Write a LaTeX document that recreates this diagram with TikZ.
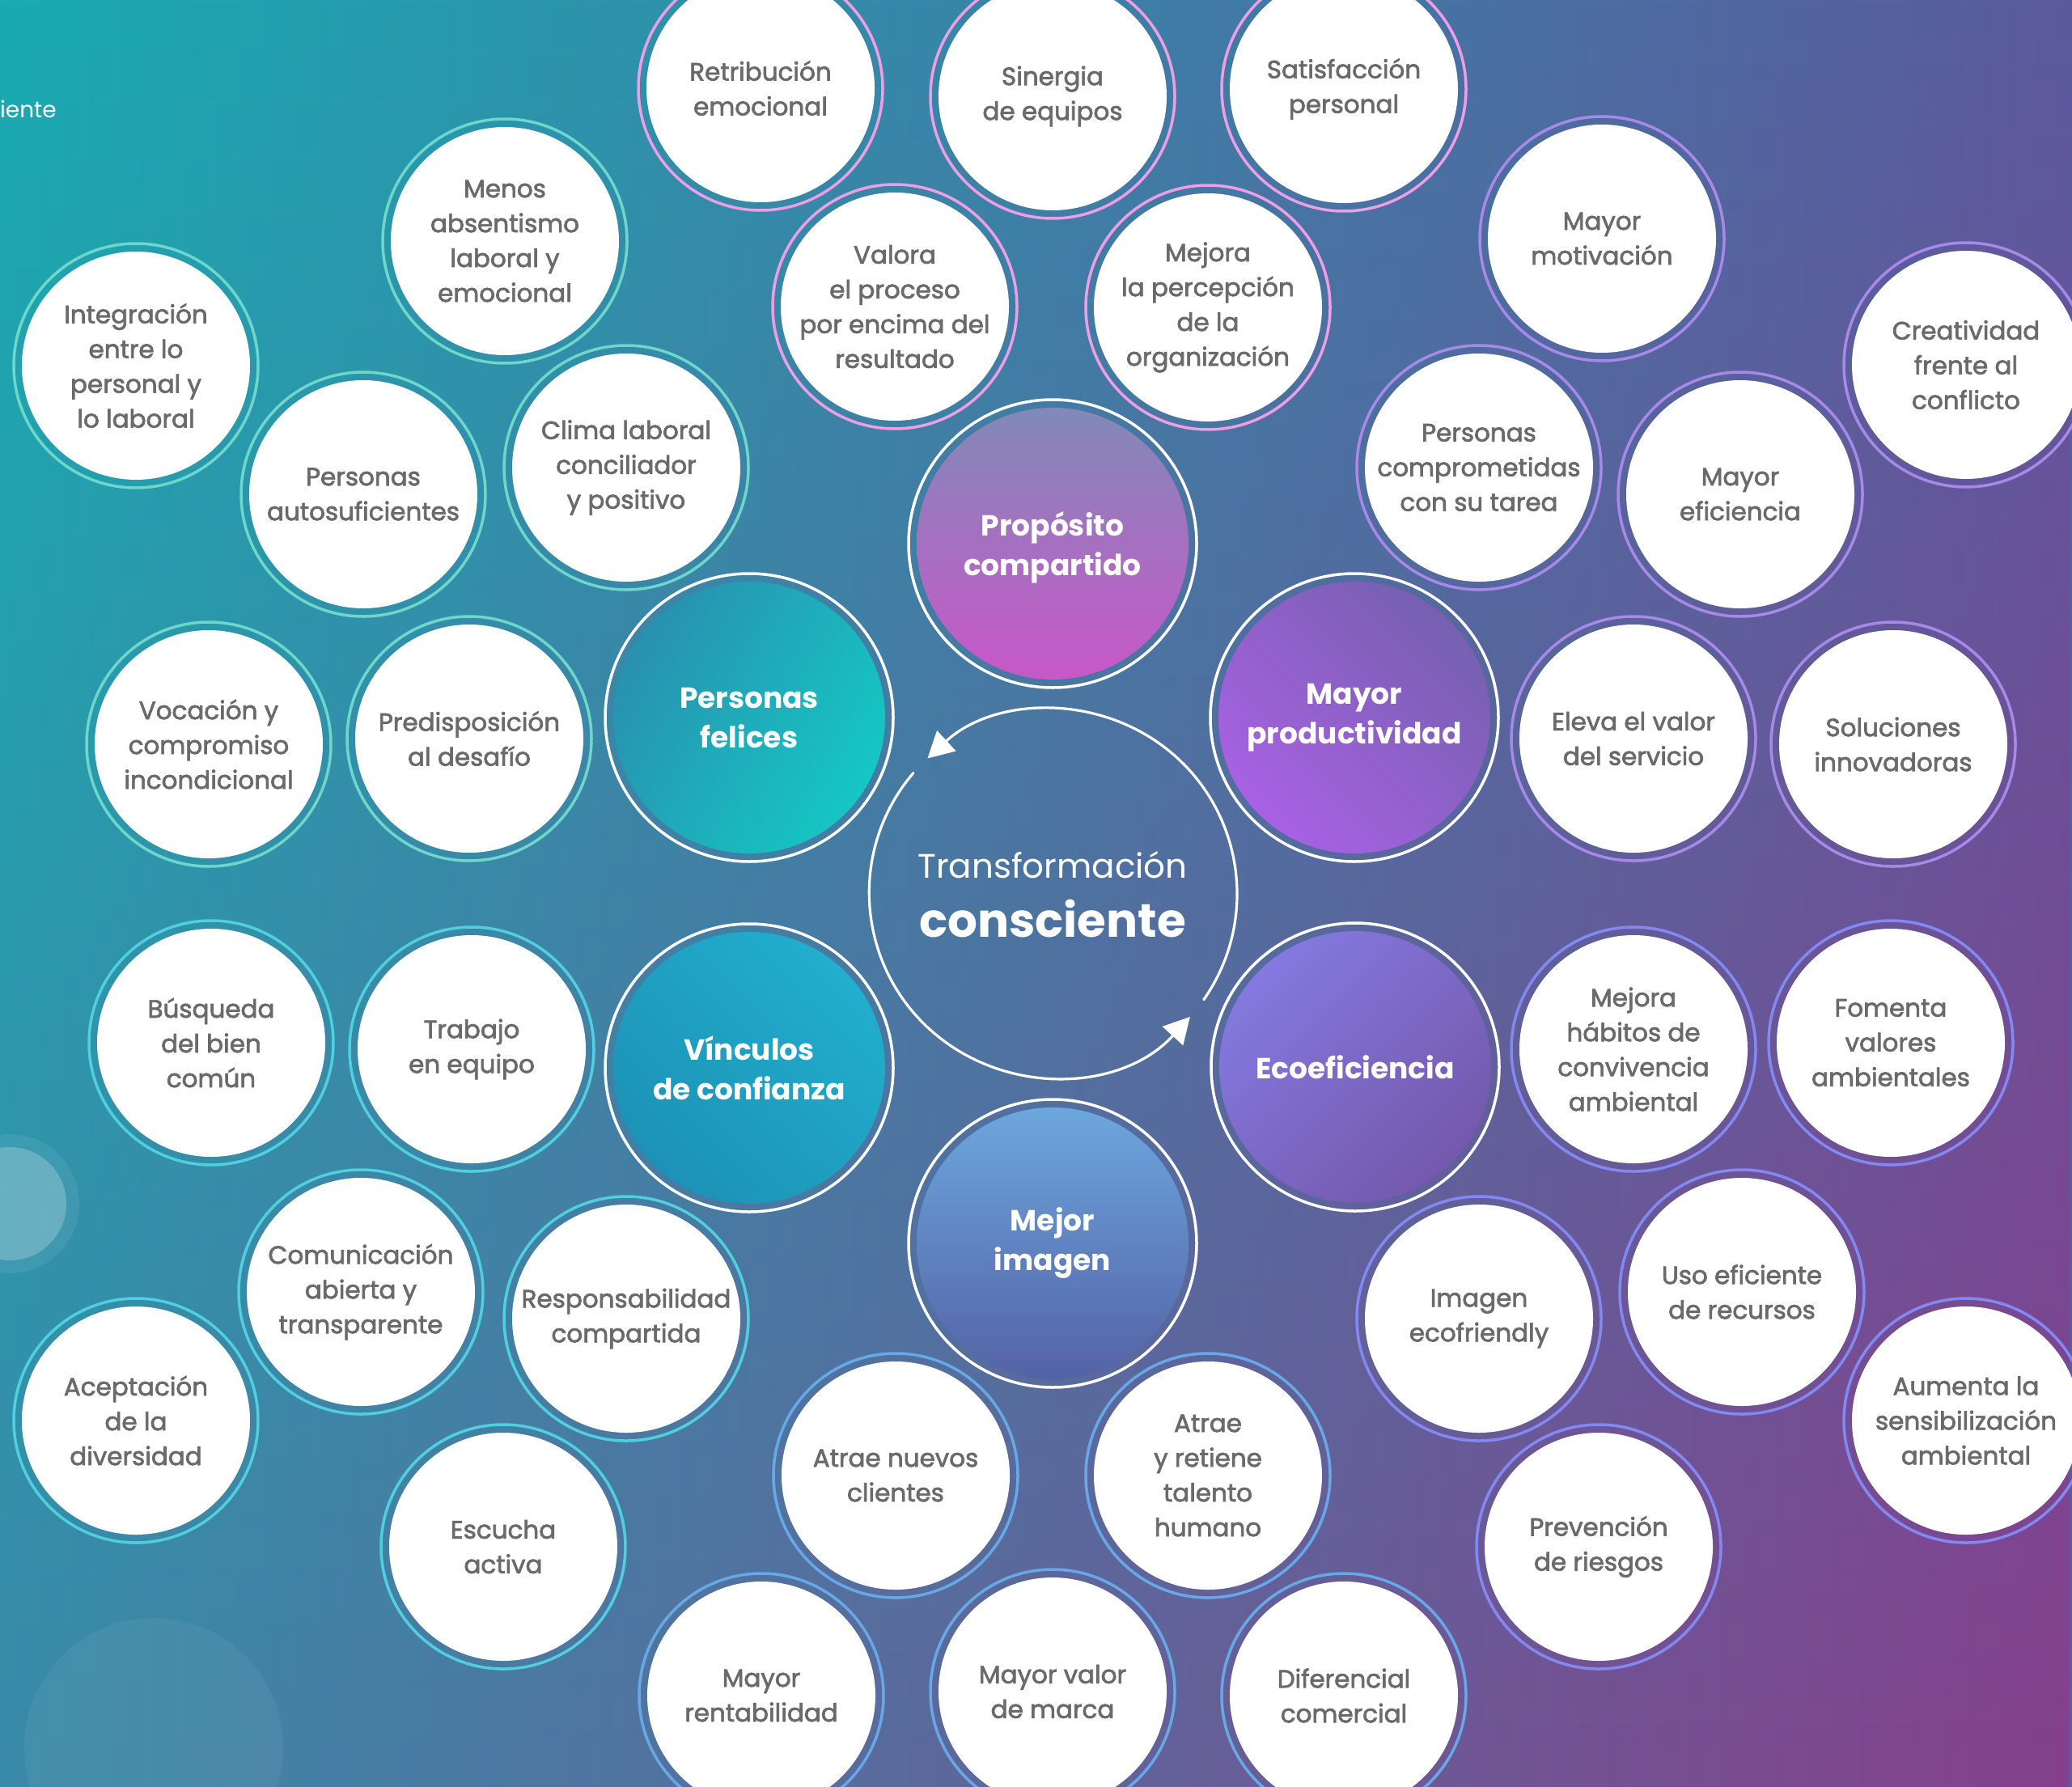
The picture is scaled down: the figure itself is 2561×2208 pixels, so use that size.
\documentclass[tikz,border=0pt]{standalone}
\usepackage{fontspec}
\setmainfont{Poppins}
\newfontfamily\wfont{Poppins}[FakeBold=2.2]
\usetikzlibrary{arrows.meta,fadings}
\definecolor{bgTL}{HTML}{19ABB1}
\definecolor{bgTR}{HTML}{5B5A9E}
\definecolor{bgBL}{HTML}{3A8AA8}
\definecolor{bgBR}{HTML}{86408D}
\definecolor{txtg}{HTML}{6A6A6A}
\definecolor{pinkR}{HTML}{EE9FE4}
\definecolor{mintR}{HTML}{6FD6CB}
\definecolor{cyanR}{HTML}{4FCFE0}
\definecolor{blueR}{HTML}{66A9E6}
\definecolor{lavR}{HTML}{A78AE8}
\definecolor{periR}{HTML}{8388F2}
\definecolor{propA}{HTML}{8289B8}
\definecolor{propB}{HTML}{C857C8}
\definecolor{felA}{HTML}{2891B0}
\definecolor{felB}{HTML}{15C7C4}
\definecolor{prodA}{HTML}{7660B0}
\definecolor{prodB}{HTML}{A861E3}
\definecolor{vinA}{HTML}{22AECD}
\definecolor{vinB}{HTML}{1C92B6}
\definecolor{ecoA}{HTML}{8479DF}
\definecolor{ecoB}{HTML}{7458AC}
\definecolor{imgA}{HTML}{6CA7DD}
\definecolor{imgB}{HTML}{5462A5}
\tikzfading[name=fadebot, top color=transparent!100, bottom color=transparent!0]
\newcommand\mywc[5]{%
  \draw[ringline, draw=#4] (#2,-#3) circle[radius=151];
  \node[wnode] (#1) at (#2,-#3) {#5};}
\newcommand\mymc[5]{%
  \draw[ringline, draw=white] (#2,-#3) circle[radius=178];
  \node[mnode, #4] (#1) at (#2,-#3) {#5};}
\begin{document}
\begin{tikzpicture}[x=1pt,y=1pt,
  ringline/.style={line width=3.5pt},
  wnode/.style={circle, fill=white, minimum size=282pt, inner sep=0pt, outer sep=0pt,
    align=center, text=txtg, font=\wfont\fontsize{31}{43}\selectfont},
  mnode/.style={circle, minimum size=336pt, inner sep=0pt, outer sep=0pt,
    align=center, text=white, font=\bfseries\fontsize{36}{49}\selectfont},
  cyc/.style={draw=white, line width=3.2pt, line cap=round,
    -{Triangle[length=32pt,width=34pt]}}]
\useasboundingbox (0,0) rectangle (2561,-2208);
\clip (0,0) rectangle (2561,-2208);
% background
\shade[left color=bgTL, right color=bgTR] (0,0) rectangle (2561,-2208);
\shade[left color=bgBL, right color=bgBR, path fading=fadebot] (0,0) rectangle (2561,-2208);
\fill[white, opacity=0.07] (12,-1488) circle[radius=86];
\fill[white, opacity=0.22] (12,-1488) circle[radius=70];
\fill[white, opacity=0.05] (190,-2160) circle[radius=160];
\node[anchor=base east, text=white, font=\fontsize{28}{34}\selectfont, inner sep=0pt] (ttl) at (70,-145) {iente};
% top group
\mywc{t1}{940}{109}{pinkR}{Retribución\\emocional}
\mywc{t2}{1301}{119}{pinkR}{Sinergia\\de equipos}
\mywc{t3}{1661}{110}{pinkR}{Satisfacción\\personal}
\mywc{t4}{1106}{379}{pinkR}{Valora\\el proceso\\por encima del\\resultado}
\mywc{t5}{1493}{380}{pinkR}{Mejora\\la percepción\\de la\\organización}
% left top group
\mywc{l1}{624}{298}{mintR}{Menos\\absentismo\\laboral y\\emocional}
\mywc{l2}{168}{452}{mintR}{Integración\\entre lo\\personal y\\lo laboral}
\mywc{l3}{449}{611}{mintR}{Personas\\autosuficientes}
\mywc{l4}{774}{578}{mintR}{Clima laboral\\conciliador\\y positivo}
\mywc{l5}{258}{920}{mintR}{Vocación y\\compromiso\\incondicional}
\mywc{l6}{580}{913}{mintR}{Predisposición\\al desafío}
% left bottom group
\mywc{b1}{261}{1289}{cyanR}{Búsqueda\\del bien\\común}
\mywc{b2}{583}{1297}{cyanR}{Trabajo\\en equipo}
\mywc{b3}{446}{1597}{cyanR}{Comunicación\\abierta y\\transparente}
\mywc{b4}{774}{1630}{cyanR}{Responsabilidad\\compartida}
\mywc{b5}{168}{1756}{cyanR}{Aceptación\\de la\\diversidad}
\mywc{b6}{622}{1912}{cyanR}{Escucha\\activa}
% bottom group
\mywc{m1}{1107}{1824}{blueR}{Atrae nuevos\\clientes}
\mywc{m2}{1493}{1824}{blueR}{Atrae\\y retiene\\talento\\humano}
\mywc{m3}{941}{2096}{blueR}{Mayor\\rentabilidad}
\mywc{m4}{1301}{2091}{blueR}{Mayor valor\\de marca}
\mywc{m5}{1661}{2096}{blueR}{Diferencial\\comercial}
% right top group
\mywc{r1}{1980}{295}{lavR}{Mayor\\motivación}
\mywc{r2}{2430}{451}{lavR}{Creatividad\\frente al\\conflicto}
\mywc{r3}{1828}{578}{lavR}{Personas\\comprometidas\\con su tarea}
\mywc{r4}{2151}{611}{lavR}{Mayor\\eficiencia}
\mywc{r5}{2019}{913}{lavR}{Eleva el valor\\del servicio}
\mywc{r6}{2340}{920}{lavR}{Soluciones\\innovadoras}
% right bottom group
\mywc{e1}{2019}{1297}{periR}{Mejora\\hábitos de\\convivencia\\ambiental}
\mywc{e2}{2337}{1289}{periR}{Fomenta\\valores\\ambientales}
\mywc{e3}{1828}{1630}{periR}{Imagen\\ecofriendly}
\mywc{e4}{2153}{1597}{periR}{Uso eficiente\\de recursos}
\mywc{e5}{2430}{1756}{periR}{Aumenta la\\sensibilización\\ambiental}
\mywc{e6}{1976}{1912}{periR}{Prevención\\de riesgos}
% main circles
\mymc{p1}{1301}{672}{top color=propA, bottom color=propB, text depth=0pt}{\raisebox{-6pt}{}Propósito\\compartido}
\mymc{p2}{926}{887}{top color=felA, bottom color=felB, shading angle=60}{\raisebox{-6pt}{}Personas\\felices}
\mymc{p3}{1674}{887}{top color=prodA, bottom color=prodB, shading angle=-45}{\raisebox{-6pt}{}Mayor\\productividad}
\mymc{p4}{926}{1320}{top color=vinA, bottom color=vinB, shading angle=-45}{Vínculos\\de confianza}
\mymc{p5}{1675}{1319}{top color=ecoA, bottom color=ecoB, shading angle=45}{Ecoeficiencia}
\mymc{p6}{1301}{1537}{top color=imgA, bottom color=imgB}{\raisebox{-6pt}{}Mejor\\imagen}
% centre
\node[circle, minimum size=456pt, inner sep=0pt, outer sep=0pt] (tc) at (1301,-1105) {};
\node[anchor=base, text=white, inner sep=0pt, font=\fontsize{42}{50}\selectfont] (tc1) at (1301,-1085) {Transformación};
\node[anchor=base, text=white, inner sep=0pt, font=\bfseries\fontsize{58}{66}\selectfont] (tc2) at (1301,-1158) {consciente};
\draw[cyc] (tc.-35) arc[start angle=-35, end angle=132.7, radius=228];
\draw[cyc] (tc.139.5) arc[start angle=139.5, end angle=317.7, radius=228];
\end{tikzpicture}
\end{document}
